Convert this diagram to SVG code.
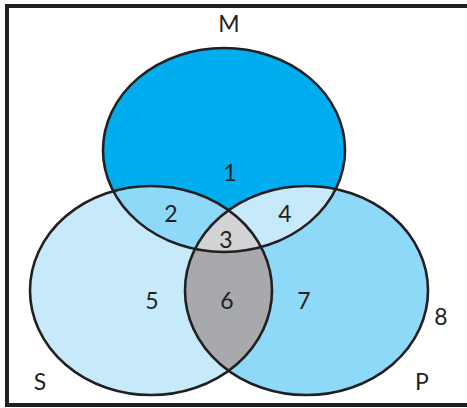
<svg xmlns="http://www.w3.org/2000/svg" width="467" height="408" viewBox="0 0 467 408">
<style>
.lbl{font-family:Lato,"Open Sans","Liberation Sans",sans-serif;font-size:23px;fill:#231f20;text-anchor:middle}
.edge{fill:none;stroke:#231f20;stroke-width:2.6}
</style>
<defs>
<ellipse id="eM" cx="224" cy="150" rx="121" ry="102"/>
<ellipse id="eS" cx="151" cy="290.5" rx="121" ry="104.5"/>
<ellipse id="eP" cx="306.5" cy="290.5" rx="121.5" ry="104.5"/>
<clipPath id="cM"><use href="#eM"/></clipPath>
<clipPath id="cS"><use href="#eS"/></clipPath>
</defs>
<rect width="467" height="408" fill="#ffffff"/>
<rect x="7" y="6" width="475" height="399" fill="none" stroke="#231f20" stroke-width="4"/>
<g id="set-S"><use href="#eS" fill="#c7eafb"/></g>
<g id="set-P"><use href="#eP" fill="#8ed8f8"/></g>
<g id="set-M"><use href="#eM" fill="#00aeef"/></g>
<g id="regions">
<g clip-path="url(#cM)"><use href="#eS" fill="#8ed8f8"/></g>
<g clip-path="url(#cM)"><use href="#eP" fill="#c7eafb"/></g>
<g clip-path="url(#cS)"><use href="#eP" fill="#a7a9ac"/></g>
<g clip-path="url(#cM)"><g clip-path="url(#cS)"><use href="#eP" fill="#d1d3d4"/></g></g>
</g>
<g id="outlines">
<use href="#eM" class="edge"/>
<use href="#eS" class="edge"/>
<use href="#eP" class="edge"/>
</g>
<g id="labels">
<text class="lbl" x="229" y="32">M</text>
<text class="lbl" x="230" y="181">1</text>
<text class="lbl" x="171" y="222">2</text>
<text class="lbl" x="226" y="248">3</text>
<text class="lbl" x="285" y="222">4</text>
<text class="lbl" x="152" y="309">5</text>
<text class="lbl" x="227" y="309">6</text>
<text class="lbl" x="304" y="309">7</text>
<text class="lbl" x="441" y="325">8</text>
<text class="lbl" x="40" y="390">S</text>
<text class="lbl" x="422" y="390">P</text>
</g>
</svg>
